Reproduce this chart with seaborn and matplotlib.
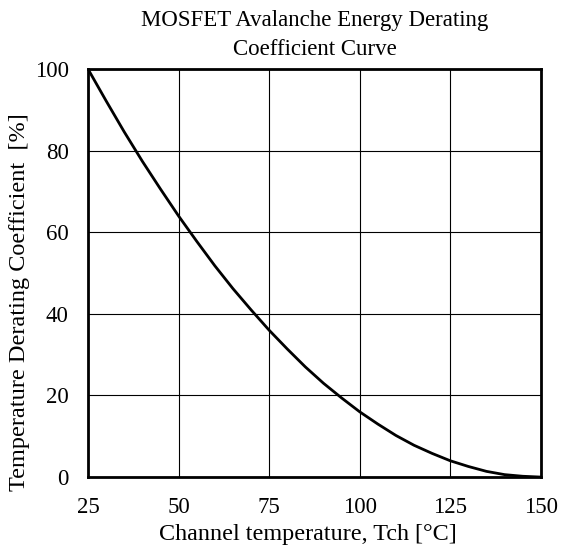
import matplotlib
matplotlib.use("Agg")
import matplotlib.pyplot as plt
import seaborn as sns
import pandas as pd

temperature = [25, 30, 35, 40, 45, 50, 55, 60, 65, 70, 75, 80, 85, 90, 95,
               100, 105, 110, 115, 120, 125, 130, 135, 140, 145, 150]
coefficient = [100.0, 92.2, 84.6, 77.4, 70.6, 64.0, 57.8, 51.8, 46.2, 41.0, 36.0,
               31.4, 27.0, 23.0, 19.4, 16.0, 13.0, 10.2, 7.8, 5.8, 4.0, 2.6,
               1.4, 0.6, 0.2, 0.0]
x_ticks = [25, 50, 75, 100, 125, 150]
y_ticks = [0, 20, 40, 60, 80, 100]

sns.set_theme(style="white")
plt.rcParams['font.family'] = ['Liberation Serif', 'DejaVu Serif']

df = pd.DataFrame({"T": temperature, "C": coefficient})

fig = plt.figure(figsize=(5.61, 5.49), dpi=100)
ax = fig.add_axes([0.157, 0.131, 0.807, 0.743])

sns.lineplot(data=df, x="T", y="C", ax=ax, color="black", linewidth=2)

ax.set_xlim(25, 150)
ax.set_ylim(0, 100)
ax.set_xticks(x_ticks)
ax.set_yticks(y_ticks)
ax.grid(True, color="black", linewidth=0.8)
ax.set_axisbelow(True)
for s in ax.spines.values():
    s.set_visible(True)
    s.set_color("black")
    s.set_linewidth(2)
ax.tick_params(axis="both", length=0, labelsize=16.5, colors="black", pad=14)
ax.set_xlabel("Channel temperature, Tch [°C]", fontsize=17.4, color="black")
ax.set_ylabel("Temperature Derating Coefficient  [%]", fontsize=17.5, color="black")
ax.xaxis.set_label_coords(0.485, -0.114)
ax.yaxis.set_label_coords(-0.128, 0.43)
ax.set_title("MOSFET Avalanche Energy Derating\nCoefficient Curve", fontsize=16.5,
             color="black", pad=10.5, linespacing=1.5)

fig.savefig("out.png", dpi=100, facecolor="white")
